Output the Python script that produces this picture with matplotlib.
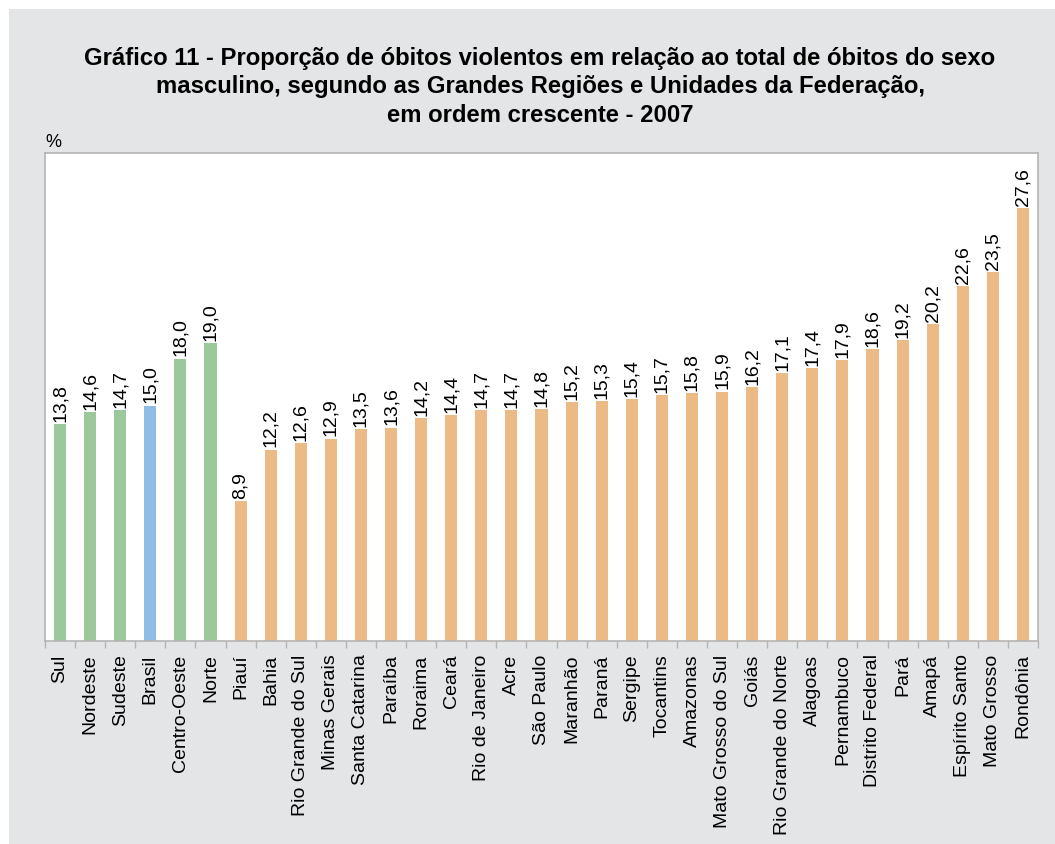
import matplotlib
matplotlib.use("Agg")
import matplotlib.pyplot as plt
import numpy as np
from matplotlib.patches import Rectangle

plt.rcParams["font.family"] = ["Liberation Sans", "DejaVu Sans"]

# data
regions = ["Sul", "Nordeste", "Sudeste", "Brasil", "Centro-Oeste", "Norte"]
region_values = [13.8, 14.6, 14.7, 15.0, 18.0, 19.0]

states = ["Piauí", "Bahia", "Rio Grande do Sul", "Minas Gerais", "Santa Catarina",
          "Paraíba", "Roraima", "Ceará", "Rio de Janeiro", "Acre", "São Paulo",
          "Maranhão", "Paraná", "Sergipe", "Tocantins", "Amazonas",
          "Mato Grosso do Sul", "Goiás", "Rio Grande do Norte", "Alagoas",
          "Pernambuco", "Distrito Federal", "Pará", "Amapá", "Espírito Santo",
          "Mato Grosso", "Rondônia"]
state_values = [8.9, 12.2, 12.6, 12.9, 13.5, 13.6, 14.2, 14.4, 14.7, 14.7, 14.8,
                15.2, 15.3, 15.4, 15.7, 15.8, 15.9, 16.2, 17.1, 17.4, 17.9, 18.6,
                19.2, 20.2, 22.6, 23.5, 27.6]

GREEN = "#9cc99c"
BLUE = "#8fbde6"
ORANGE = "#ecba85"
BG = "#e4e5e7"
FRAME = "#b4b4b4"

labels = regions + states
values = region_values + state_values
colors = [BLUE if r == "Brasil" else GREEN for r in regions] + [ORANGE] * len(states)

fig = plt.figure(figsize=(10.55, 8.45), dpi=100, facecolor="white")
W, H = 1055, 845
fig.patches.append(Rectangle((9 / W, 0), 1 - 9 / W, 1 - 10 / H,
                             transform=fig.transFigure, facecolor=BG,
                             edgecolor="none", zorder=-10))

ax = fig.add_axes([45 / W, 1 - 642 / H, (1038 - 45) / W, (642 - 154) / H])
x = np.arange(len(labels))
ax.bar(x, values, width=0.4, color=colors)
ax.set_xlim(-0.5, len(labels) - 0.5)
ax.set_ylim(0, 31.1)

for xi, v in zip(x, values):
    ax.text(xi, v + 0.2, f"{v:.1f}".replace(".", ","), rotation=90,
            ha="center", va="bottom", fontsize=14)

ax.set_yticks([])
ax.set_xticks(x)
ax.set_xticklabels(labels, rotation=90, fontsize=14)
ax.tick_params(axis="x", length=0, pad=9)
ax.set_xticks(np.arange(-0.5, len(labels)), minor=True)
ax.tick_params(axis="x", which="minor", length=5, color=FRAME, width=1)
for s in ax.spines.values():
    s.set_color(FRAME)
    s.set_linewidth(1.2)

ax.text(0, 1.006, "%", transform=ax.transAxes, ha="left", va="bottom", fontsize=13)

fig.text(540 / W, 1 - 87 / H,
         "Gráfico 11 - Proporção de óbitos violentos em relação ao total de óbitos do sexo\n"
         "masculino, segundo as Grandes Regiões e Unidades da Federação,\n"
         "em ordem crescente - 2007",
         ha="center", va="center", fontsize=17.2, fontweight="bold", linespacing=1.3)

fig.savefig("out.png", dpi=100, facecolor="white")
